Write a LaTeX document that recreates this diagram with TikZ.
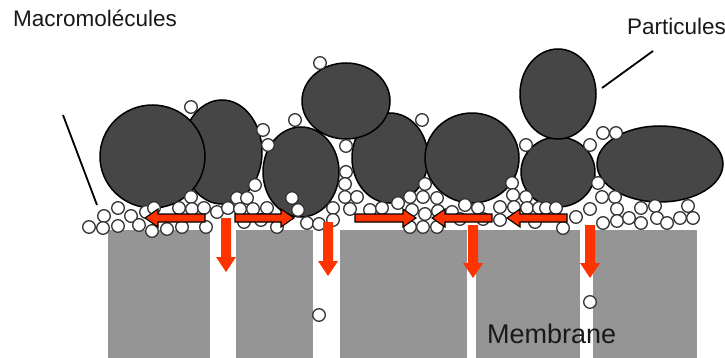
\documentclass[tikz,border=0pt]{standalone}
\usepackage{fontspec}
\setmainfont{Liberation Sans}
\definecolor{poreflow}{HTML}{FF3300}
\definecolor{blobgray}{HTML}{464646}
\definecolor{membgray}{HTML}{959595}
\tikzset{
  blob/.style={fill=blobgray, draw=black, line width=1.5pt},
  grain/.style={fill=white, draw=black!80, line width=1.3pt},
  slab/.style={fill=membgray},
  flowarr/.style={fill=poreflow, draw=black, line width=1.1pt, line join=miter},
  sinkarr/.style={fill=poreflow},
  lbl/.style={inner sep=0pt, text=black!90, font=\fontsize{22.5}{26}\selectfont},
  leader/.style={draw=black, line width=1.8pt}
}
% horizontal flow arrow: tail x, tip x, y
\newcommand{\sidearrow}[3]{%
  \pgfmathsetmacro\headx{#2>#1 ? #2-13 : #2+13}
  \draw[flowarr] (#1,#3-4) -- (\headx,#3-4) -- (\headx,#3-9) -- (#2,#3)
    -- (\headx,#3+9) -- (\headx,#3+4) -- (#1,#3+4) -- cycle;
}
% flow down a pore: x, top y, tip y
\newcommand{\sinkarrow}[3]{%
  \fill[sinkarr] (#1-5,#2) -- (#1+5,#2) -- (#1+5,#3-15) -- (#1+10,#3-15)
    -- (#1,#3) -- (#1-10,#3-15) -- (#1-5,#3-15) -- cycle;
}

\begin{document}
\begin{tikzpicture}[x=1pt, y=-1pt]
  \useasboundingbox (0,0) rectangle (725,358);

  % membrane
  \foreach \xa/\xb in {108/210, 236/313, 340/467, 476/580, 593/697}
    \fill[slab] (\xa,230) rectangle (\xb,358);

  % macromolecules
  \foreach \cx/\cy/\rx/\ry in {222/152/40/52, 152.5/156.5/52.5/51.5, 301/172/38/45,
      390/158/38/45, 346/101/44/38, 472/158/47/45, 558/172/37/35, 558/94/38/45,
      660/164/63/38}
    \filldraw[blob] (\cx,\cy) ellipse [x radius=\rx pt, y radius=\ry pt];

  % small particles
  \foreach \gx/\gy in {191/107, 263/130, 268/145, 295/120, 320/63, 346/146, 346/172,
      422/120, 526/145, 590/145, 603/133, 616/133,
      89/227, 104/216, 103/228, 118/208, 118/226, 131/216, 139/225, 146/212, 154/208,
      152/231, 167/229, 179/208, 182/227, 191/197, 192/209, 204/208, 206/227, 217/212,
      228/208, 237/198,
      247/198, 255/185, 240/209, 253/209, 267/208, 261/220, 244/222, 277/227, 292/198,
      298/210, 307/223, 319/224, 333/208, 333/220, 345/184, 345/197, 357/197, 350/209,
      370/210, 382/208,
      398/203, 410/197, 423/197, 425/184, 437/198, 412/210, 425/214, 438/211, 410/227,
      423/227, 437/227, 452/212, 465/205, 460/219, 478/208, 483/219, 500/220, 500/207,
      512/183, 513/195, 526/197, 514/207, 527/208, 539/208, 535/222,
      546/208, 556/208, 563/228, 576/217, 590/209, 598/183, 602/197, 615/197, 617/209,
      617/221, 603/223, 629/218, 641/208, 641/223, 655/206, 657/218, 667/223, 680/218,
      688/206, 693/218,
      319/315, 590/302}
    \filldraw[grain] (\gx,\gy) circle [radius=6.3pt];

  % flow
  \sidearrow{205}{145}{218}
  \sidearrow{235}{294}{218}
  \sidearrow{355}{416}{218}
  \sidearrow{492}{432}{218}
  \sidearrow{567}{507}{218}
  \sinkarrow{226}{218}{272}
  \sinkarrow{328}{222}{276}
  \sinkarrow{473}{225}{278}
  \sinkarrow{590}{225}{278}

  % labels
  \node[lbl, anchor=base west] (macro) at (13,27) {Macromolécules};
  \node[lbl, anchor=base west] (partic) at (627,35) {Particules};
  \node[lbl, anchor=base west, font=\fontsize{27}{32}\selectfont] (membr) at (487,343) {Membrane};
  \coordinate (macroA) at (63,115);
  \coordinate (macroB) at (97,205);
  \coordinate (particA) at (653,51);
  \coordinate (particB) at (602,88);
  \draw[leader] (macroA) -- (macroB);
  \draw[leader] (particA) -- (particB);
\end{tikzpicture}
\end{document}
